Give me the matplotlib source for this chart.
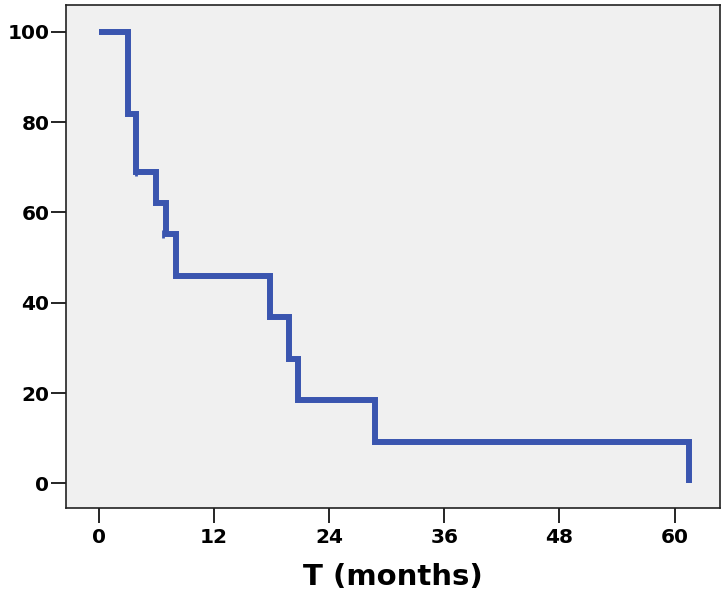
import matplotlib.pyplot as plt

# Kaplan-Meier style survival curve
times = [0, 3.0, 3.9, 6.0, 7.0, 8.0, 17.8, 19.8, 20.8, 28.8, 61.5]
surv = [100, 81.8, 69.0, 62.0, 55.2, 46.0, 36.8, 27.6, 18.4, 9.2, 0]
censor_t = [3.9, 6.7]
censor_s = [69.0, 55.2]

xticks = [0, 12, 24, 36, 48, 60]
yticks = [0, 20, 40, 60, 80, 100]

plt.rcParams['font.family'] = ['DejaVu Sans']
plt.rcParams['font.weight'] = 'bold'

fig = plt.figure(figsize=(7.27, 5.95), dpi=100)
ax = fig.add_axes([0.091, 0.146, 0.899, 0.846])
ax.set_facecolor('#F0F0F0')

line_color = '#3A55AF'
ax.step(times, surv, where='post', color=line_color, lw=4.3,
        solid_joinstyle='miter', solid_capstyle='butt')
ax.plot(censor_t, censor_s, ls='none', marker='|', ms=6, mew=2, color=line_color)

ax.set_xlim(-3.4, 64.7)
ax.set_ylim(-5.5, 106)
ax.set_xticks(xticks)
ax.set_yticks(yticks)
ax.tick_params(axis='both', direction='out', length=11, width=1.2,
               labelsize=14.5)
ax.tick_params(axis='y', pad=1)
ax.tick_params(axis='x', pad=3)
for lab in ax.get_xticklabels() + ax.get_yticklabels():
    lab.set_fontweight('bold')

for sp in ax.spines.values():
    sp.set_linewidth(1.2)
    sp.set_color('#222222')

ax.set_xlabel('T (months)', fontsize=21, fontweight='bold', labelpad=12)

fig.savefig('out.png', dpi=100)
